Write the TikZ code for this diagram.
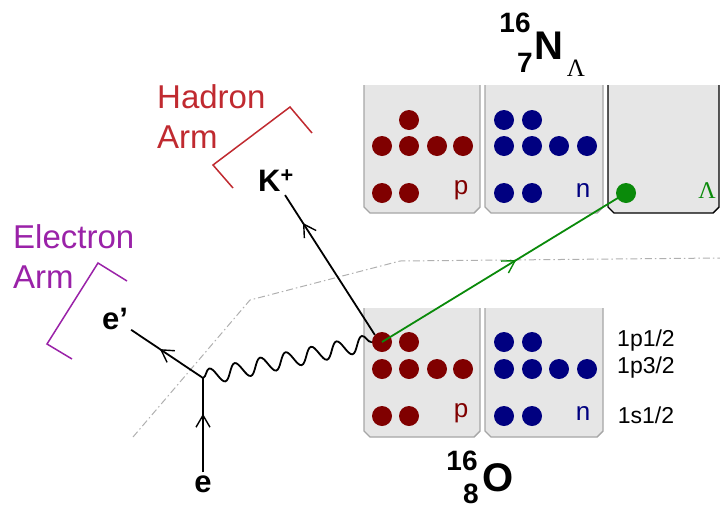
\documentclass[tikz,border=0pt]{standalone}
\usepackage{fontspec}
\setmainfont{Liberation Sans}
\newfontfamily\grfont{Liberation Serif}
\usetikzlibrary{arrows.meta,positioning,decorations.pathmorphing,decorations.markings}
\definecolor{prot}{HTML}{800000}
\definecolor{neut}{HTML}{000080}
\definecolor{lamb}{HTML}{0A8A0A}
\definecolor{hadr}{HTML}{C02A30}
\definecolor{elec}{HTML}{9A22A8}
\definecolor{shFill}{HTML}{E6E6E6}
\definecolor{shEdge}{HTML}{A6A6A6}
\definecolor{specGray}{HTML}{B0B0B0}

% shell box: fill, then open outline with cut bottom corners
\newcommand{\shellbox}[5][shEdge]{%
  \fill[shFill] (#2,#3) -- (#2,#5-6) -- (#2+6,#5) -- (#4-6,#5) -- (#4,#5-6) -- (#4,#3) -- cycle;
  \draw[#1,line width=1.4pt,line join=round] (#2,#3) -- (#2,#5-6) -- (#2+6,#5) -- (#4-6,#5) -- (#4,#5-6) -- (#4,#3);}

\begin{document}
\begin{tikzpicture}[x=1pt,y=-1pt,
      pdot/.style={circle,fill=prot,draw=none,inner sep=0pt,minimum size=20pt},
      ndot/.style={circle,fill=neut,draw=none,inner sep=0pt,minimum size=20pt},
      ldot/.style={circle,fill=lamb,draw=none,inner sep=0pt,minimum size=20pt},
      lbl/.style={font=\fontsize{23}{25}\selectfont,inner sep=1pt},
      iso/.style={font=\fontsize{28}{28}\selectfont\bfseries,inner sep=0pt},
      elem/.style={font=\fontsize{40}{40}\selectfont\bfseries,inner sep=0pt},
      part/.style={font=\fontsize{31}{31}\selectfont\bfseries,inner sep=3pt},
      arm/.style={font=\fontsize{33}{40}\selectfont,align=left,inner sep=0pt,anchor=north west},
      fline/.style={line width=1.8pt},
      midarrow/.style={postaction={decorate},decoration={markings,
          mark=at position #1 with {\arrow{Straight Barb[length=12pt,width=14pt,line width=1.4pt]}}}},
      photon/.style={line width=1.8pt,decorate,decoration={snake,segment length=26pt,amplitude=8pt}}]

    \useasboundingbox (0,0) rectangle (720,509);

    % spectrometer acceptance line
    \draw[specGray,line width=1pt,dash pattern=on 7pt off 3pt on 1.5pt off 3pt]
      (133,437) -- (250,300) -- (400,261) -- (720,258);

    % hypernucleus (top) and target (bottom) shells
    \shellbox{364}{85}{480}{213}
    \shellbox{485}{85}{603}{213}
    \shellbox[black]{608}{85}{719}{213}
    \shellbox{364}{308}{480}{437}
    \shellbox{485}{308}{603}{437}

    \foreach \x/\y [count=\i] in {409/120,382/146,409/146,437/146,463/146,382/193,409/193}
      \node[pdot] (hp\i) at (\x,\y) {};
    \foreach \x/\y [count=\i] in {504/120,532/120,504/146,532/146,559/146,587/146,504/193,532/193}
      \node[ndot] (hn\i) at (\x,\y) {};
    \node[ldot] (lam) at (626,193) {};

    \foreach \x/\y [count=\i] in {382/342,409/342,382/369,409/369,437/369,463/369,382/416,409/416}
      \node[pdot] (op\i) at (\x,\y) {};
    \foreach \x/\y [count=\i] in {504/342,532/342,504/369,532/369,559/369,587/369,504/416,532/416}
      \node[ndot] (on\i) at (\x,\y) {};

    \node[lbl,text=prot,font=\fontsize{26}{28}\selectfont] (hpl) at (461,190) {p};
    \node[lbl,text=neut,font=\fontsize{26}{28}\selectfont] (hnl) at (583,190) {n};
    \node[lbl,text=lamb,font=\fontsize{24}{26}\selectfont\grfont] (hll) at (707,191) {Λ};
    \node[lbl,text=prot,font=\fontsize{26}{28}\selectfont] (opl) at (461,413) {p};
    \node[lbl,text=neut,font=\fontsize{26}{28}\selectfont] (onl) at (583,413) {n};

    \node[lbl] (s1) at (646,341) {1p1/2};
    \node[lbl] (s2) at (646,368) {1p3/2};
    \node[lbl] (s3) at (646,415) {1s1/2};

    % nuclei names
    \node[elem] (nucN) at (549,46) {N};
    \node[iso] (nucNa) at (515,23) {16};
    \node[iso] (nucNz) at (525,63) {7};
    \node[font=\fontsize{25}{25}\selectfont\grfont,inner sep=0pt] (nucNl) at (576,68) {Λ};
    \node[elem] (nucO) at (498,478) {O};
    \node[iso] (nucOa) at (462,461) {16};
    \node[iso] (nucOz) at (471,494) {8};

    % kinematics
    \coordinate (vtx) at (203,378);
    \node[part] (ein) at (203,484) {e};
    \node[part] (eout) at (115,319) {e'};
    \node[part] (kp) at (276,181) {K\textsuperscript{+}};

    \draw[fline,midarrow=0.62] (ein) -- (vtx);
    \draw[fline,midarrow=0.6] (vtx) -- (eout);
    \draw[photon] (vtx) -- (op1.west);
    \draw[fline,midarrow=0.8] (op1.135) -- (kp);
    \draw[fline,lamb,midarrow=0.55] (op1.center) -- (lam.center);

    % spectrometer arms
    \node[arm,text=hadr] (harm) at (157,84) {Hadron\\Arm};
    \draw[hadr,line width=1.5pt] (233,188) -- (213,165) -- (290,107) -- (312,133);
    \node[arm,text=elec] (earm) at (13,224) {Electron\\Arm};
    \draw[elec,line width=1.5pt] (127,281) -- (98,263) -- (47,344) -- (72,359);
  \end{tikzpicture}
\end{document}
